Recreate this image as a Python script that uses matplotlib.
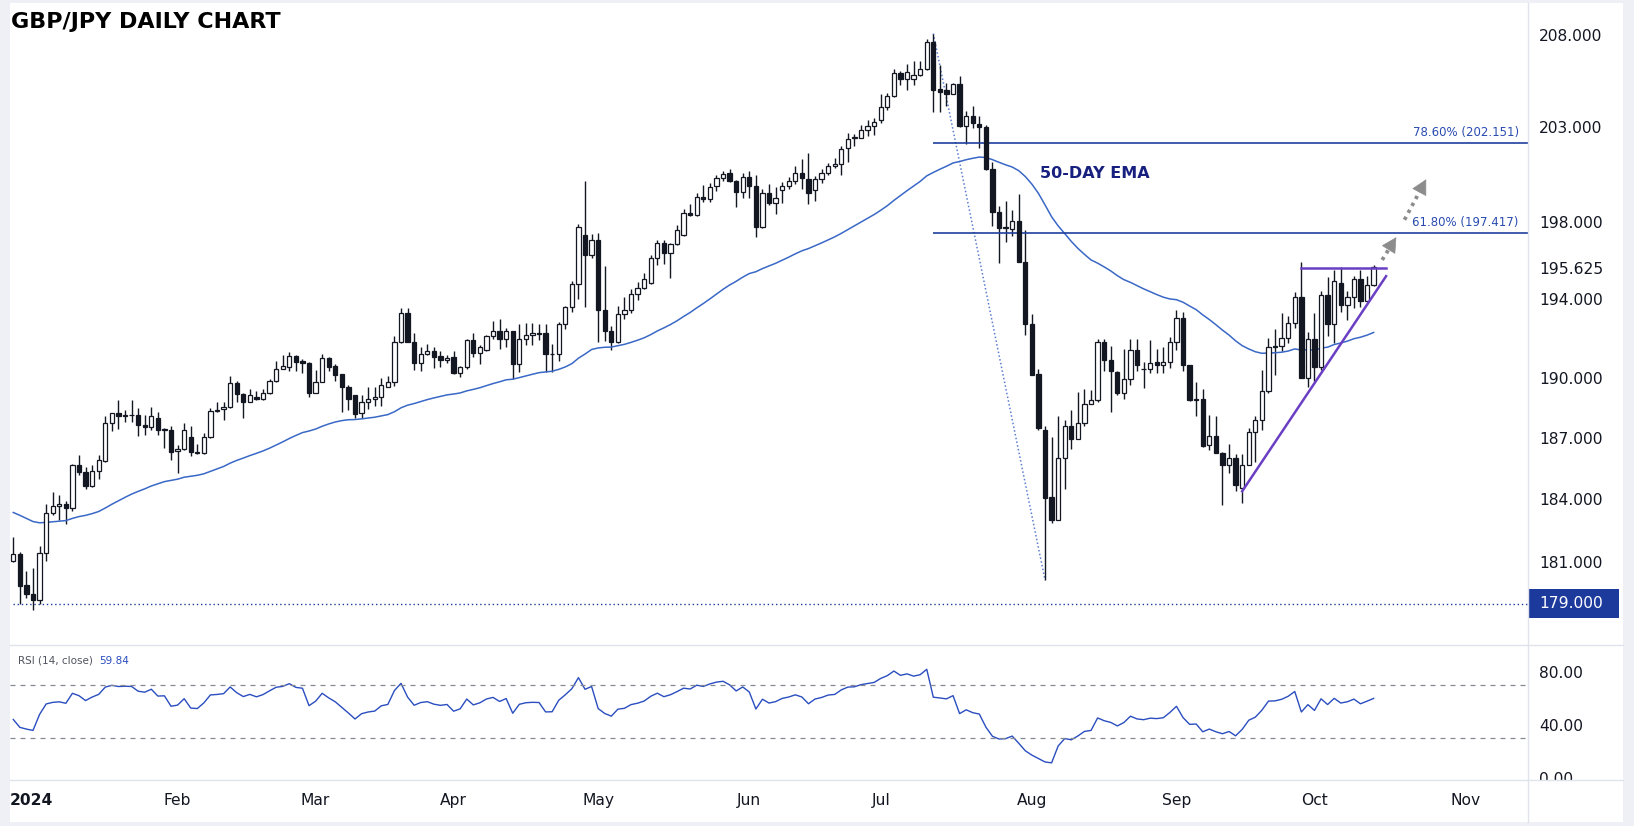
import numpy as np
import pandas as pd
import matplotlib
matplotlib.use("Agg")
import matplotlib.pyplot as plt
import matplotlib.transforms as mtransforms
from matplotlib.lines import Line2D
from matplotlib.patches import Rectangle
from matplotlib.ticker import NullLocator

# GBP/JPY daily candles (28 Dec 2023 - 14 Oct 2024)
opens = [181.03, 181.35, 179.88, 179.47, 179.19, 181.40, 183.34, 183.67, 183.78, 183.57,
         185.66, 185.33, 184.65, 185.37, 185.89, 187.74, 188.23, 188.09, 188.15, 188.15,
         187.64, 187.54, 187.99, 187.41, 187.41, 186.38, 186.49, 187.05, 186.30, 186.28,
         187.05, 188.37, 188.43, 188.54, 189.76, 189.21, 188.82, 189.03, 188.94, 189.27,
         189.86, 190.46, 190.55, 191.09, 190.85, 190.75, 189.27, 189.82, 190.99, 190.59,
         190.20, 189.57, 189.13, 188.23, 188.78, 188.97, 189.07, 189.57, 189.82, 191.81,
         193.29, 191.81, 190.75, 191.21, 191.35, 191.09, 190.91, 191.05, 190.26, 190.55,
         191.91, 191.25, 191.39, 192.11, 192.35, 191.99, 192.35, 190.71, 191.95, 192.19,
         192.25, 192.25, 191.19, 191.19, 192.71, 193.60, 194.77, 197.32, 196.30, 197.08,
         193.45, 192.39, 191.79, 193.25, 193.45, 194.26, 194.57, 194.83, 196.14, 196.91,
         196.40, 196.85, 197.32, 198.46, 198.36, 199.33, 199.19, 199.86, 200.30, 200.55,
         200.17, 199.56, 200.38, 199.86, 197.74, 199.54, 198.98, 199.65, 199.86, 200.13,
         200.55, 200.28, 199.67, 200.28, 200.55, 200.96, 201.07, 201.91, 202.44, 202.44,
         202.86, 203.07, 203.38, 204.08, 204.70, 205.94, 205.62, 205.62, 205.83, 206.16,
         207.63, 205.09, 205.02, 204.83, 205.36, 203.07, 203.64, 203.17, 203.02, 200.76,
         198.50, 197.70, 197.63, 198.05, 195.92, 192.75, 190.20, 187.41, 184.11, 183.02,
         186.05, 187.60, 186.96, 187.76, 188.72, 188.92, 191.79, 190.89, 190.32, 189.23,
         189.96, 191.41, 190.46, 190.46, 190.79, 190.65, 190.81, 191.79, 193.05, 190.65,
         188.88, 188.94, 186.67, 187.11, 186.28, 185.66, 186.01, 184.54, 185.70, 187.31,
         187.90, 189.33, 191.55, 191.61, 192.01, 192.79, 194.12, 190.00, 191.99, 190.55,
         194.20, 192.71, 194.81, 193.70, 194.12, 195.04, 193.90, 194.73]
highs = [182.20, 181.44, 180.56, 180.69, 181.73, 183.78, 184.34, 184.24, 183.92, 185.72,
         186.18, 185.60, 185.66, 186.18, 188.09, 188.25, 188.92, 188.39, 188.88, 188.48,
         188.15, 188.54, 188.29, 187.50, 187.60, 186.69, 187.76, 187.60, 186.72, 187.25,
         188.48, 188.82, 188.78, 190.10, 189.86, 189.25, 189.47, 189.37, 189.47, 189.96,
         190.85, 191.15, 191.29, 191.15, 190.95, 190.78, 190.40, 191.19, 191.05, 190.71,
         190.22, 189.66, 189.17, 189.17, 189.53, 189.53, 190.01, 190.12, 192.11, 193.56,
         193.56, 192.25, 191.55, 191.69, 191.55, 191.35, 191.15, 191.35, 190.60, 191.99,
         192.25, 191.65, 192.19, 192.89, 192.99, 192.55, 192.37, 192.71, 192.79, 192.79,
         192.75, 192.71, 191.69, 192.85, 193.66, 194.94, 197.90, 200.13, 197.36, 197.43,
         195.73, 192.65, 193.66, 194.12, 194.51, 194.87, 195.35, 196.30, 197.08, 197.08,
         196.91, 197.84, 198.67, 198.92, 199.54, 199.92, 200.07, 200.45, 200.70, 200.76,
         200.19, 200.55, 200.66, 200.45, 199.75, 199.98, 199.82, 200.09, 200.38, 200.92,
         201.34, 201.63, 200.40, 200.76, 201.13, 201.38, 202.01, 202.71, 202.65, 203.11,
         203.38, 203.53, 204.83, 204.87, 206.16, 206.05, 206.42, 206.59, 206.59, 207.82,
         208.10, 206.37, 205.41, 205.40, 205.79, 203.87, 204.17, 203.60, 203.13, 201.17,
         198.81, 199.12, 198.61, 199.46, 197.57, 193.25, 190.46, 187.60, 187.05, 188.09,
         187.90, 188.39, 189.31, 189.47, 189.41, 191.99, 191.99, 191.61, 190.34, 191.45,
         191.99, 191.99, 190.79, 191.91, 191.45, 191.55, 192.05, 193.45, 193.35, 190.67,
         189.80, 189.43, 188.15, 188.09, 186.30, 186.72, 186.20, 186.24, 187.50, 188.09,
         190.42, 192.01, 192.45, 193.29, 193.15, 194.37, 195.93, 192.31, 193.31, 194.41,
         195.12, 195.49, 195.63, 194.41, 195.18, 195.49, 195.18, 195.75]
lows = [180.97, 179.00, 179.28, 178.72, 179.00, 181.03, 183.25, 183.00, 182.81, 183.44,
        185.21, 184.50, 184.60, 184.98, 185.81, 187.35, 187.45, 187.80, 187.80, 187.11,
        187.17, 187.41, 187.15, 186.53, 185.95, 185.27, 186.43, 186.14, 186.24, 186.24,
        187.01, 188.29, 187.90, 188.48, 188.78, 187.99, 188.78, 188.92, 188.90, 189.21,
        189.80, 190.44, 190.36, 190.36, 190.26, 189.07, 189.25, 189.80, 190.36, 189.86,
        188.29, 188.39, 187.99, 187.99, 188.43, 188.62, 188.58, 189.55, 189.61, 191.75,
        191.79, 190.40, 190.36, 191.15, 190.51, 190.55, 190.75, 190.20, 190.06, 190.46,
        191.05, 190.71, 191.35, 191.95, 191.45, 191.55, 189.96, 190.32, 191.65, 191.65,
        191.91, 190.32, 190.32, 190.85, 192.45, 193.35, 194.00, 193.60, 196.14, 191.79,
        191.85, 191.39, 191.75, 192.99, 193.31, 193.98, 194.53, 194.77, 195.75, 195.83,
        195.08, 196.77, 197.28, 198.30, 198.32, 199.04, 199.04, 199.61, 200.17, 200.09,
        198.77, 199.25, 199.25, 197.22, 197.67, 198.88, 198.40, 198.98, 199.71, 199.98,
        199.71, 198.94, 199.08, 200.07, 200.49, 200.86, 200.47, 201.17, 202.01, 202.42,
        202.54, 202.58, 203.24, 203.96, 204.66, 205.30, 205.02, 205.30, 205.79, 206.12,
        203.85, 203.85, 204.13, 204.80, 203.05, 202.10, 202.96, 201.91, 200.74, 197.80,
        195.85, 196.95, 197.28, 195.90, 192.15, 190.14, 187.41, 180.12, 182.87, 183.00,
        184.50, 186.47, 186.94, 187.60, 188.68, 188.78, 190.36, 188.29, 189.17, 188.97,
        189.66, 190.36, 189.51, 190.26, 190.26, 190.26, 190.51, 191.39, 190.36, 188.86,
        188.09, 186.57, 186.43, 186.26, 183.73, 185.31, 184.40, 183.82, 185.66, 185.85,
        187.41, 189.27, 190.16, 191.35, 191.75, 192.51, 189.98, 189.57, 189.86, 190.42,
        192.11, 191.75, 193.35, 192.91, 193.56, 193.60, 193.88, 194.67]
closes = [181.35, 179.84, 179.47, 179.19, 181.40, 183.34, 183.67, 183.78, 183.57, 185.66,
          185.33, 184.65, 185.37, 185.95, 187.74, 188.23, 188.09, 188.15, 188.13, 187.64,
          187.54, 188.09, 187.41, 187.45, 186.34, 186.49, 187.41, 186.34, 186.28, 187.05,
          188.33, 188.41, 188.54, 189.76, 189.21, 188.82, 189.17, 188.94, 189.27, 189.86,
          190.46, 190.61, 191.09, 190.81, 190.75, 189.27, 189.82, 190.99, 190.55, 190.16,
          189.57, 188.94, 188.19, 188.78, 188.97, 189.07, 189.66, 189.82, 191.81, 193.29,
          191.81, 190.75, 191.21, 191.35, 191.05, 190.91, 191.03, 190.26, 190.55, 191.91,
          191.25, 191.55, 192.11, 192.35, 191.95, 192.35, 190.71, 191.95, 192.19, 192.25,
          192.23, 191.19, 191.21, 192.71, 193.60, 194.77, 197.74, 196.30, 197.08, 193.45,
          192.39, 191.79, 193.25, 193.45, 194.26, 194.57, 195.04, 196.14, 196.91, 196.40,
          196.85, 197.59, 198.46, 198.36, 199.33, 199.19, 199.82, 200.30, 200.51, 200.17,
          199.56, 200.38, 199.86, 197.74, 199.54, 198.98, 199.25, 199.86, 200.13, 200.55,
          200.30, 199.50, 200.28, 200.55, 200.96, 201.07, 201.87, 202.40, 202.46, 202.86,
          203.07, 203.28, 204.08, 204.70, 205.94, 205.62, 205.99, 205.83, 206.16, 207.63,
          205.02, 204.93, 204.83, 205.36, 203.07, 203.64, 203.22, 203.02, 200.76, 198.50,
          197.70, 197.74, 198.05, 195.92, 192.75, 190.16, 187.50, 184.07, 183.02, 186.05,
          187.60, 186.96, 187.76, 188.72, 188.92, 191.79, 190.91, 190.36, 189.23, 189.96,
          191.41, 190.65, 190.44, 190.75, 190.65, 190.81, 191.79, 193.05, 190.65, 188.88,
          188.94, 186.63, 187.11, 186.28, 185.66, 186.01, 184.69, 185.70, 187.31, 187.90,
          189.33, 191.55, 191.61, 192.01, 192.79, 194.12, 190.00, 191.99, 190.55, 194.20,
          192.71, 194.94, 193.70, 194.12, 195.04, 193.90, 194.73, 195.63]

first_day = "2023-12-28"
month_names = ["2024", "Feb", "Mar", "Apr", "May", "Jun", "Jul", "Aug", "Sep", "Oct", "Nov"]
price_ticks = [208.0, 203.0, 198.0, 195.625, 194.0, 190.0, 187.0, 184.0, 181.0]
rsi_ticks = [80, 40, 0]
fib_levels = [202.151, 197.417]
fib_texts = ["78.60% (202.151)", "61.80% (197.417)"]
support_level = 179.0
triangle_top = 195.625
rsi_last_text = "59.84"

# breakout arrows drawn by hand on the original (start, tip) in (bar index, price)
arrows = [((208.3, 196.02), (210.45, 197.20)),
          ((211.7, 198.11), (215.0, 200.24))]

# seeds for the indicators (the history before the first candle is not on the chart)
ema_seed = 183.45
rsi_seed_gain = 0.33
rsi_seed_loss = 0.42

n = len(closes)
x = np.arange(n)
o = np.array(opens)
c = np.array(closes)

# 50 day EMA
ema = []
e = ema_seed
for v in closes:
    e = e + (v - e) * 2 / 51
    ema.append(e)

# RSI 14 (Wilder)
rsi = []
g, l = rsi_seed_gain, rsi_seed_loss
prev = None
for v in closes:
    if prev is not None:
        d = v - prev
        g = (g * 13 + max(d, 0)) / 14
        l = (l * 13 + max(-d, 0)) / 14
    rsi.append(100 - 100 / (1 + g / l))
    prev = v

days = pd.bdate_range(first_day, periods=n + 20)
month_pos = [i for i in range(1, len(days)) if days[i].month != days[i - 1].month]

ink = "#131722"
navy = "#1e3f9e"
sep = "#e0e3eb"

# ---- layout (pixel positions of the 1568x793 screenshot)
W, H = 1568, 793
def fx(px):
    return px / W
def fy(py):
    return 1 - py / H

fig = plt.figure(figsize=(16.34, 8.26), dpi=100)
fig.patch.set_facecolor("#eef0f5")

bg = fig.add_axes([fx(9.6), fy(789), fx(1557) - fx(9.6), fy(3) - fy(789)])
bg.set_facecolor("white")
bg.set_xticks([]); bg.set_yticks([])
for s in bg.spines.values():
    s.set_visible(False)
bg.set_zorder(0)

ax = fig.add_axes([fx(9.6), fy(618.6), fx(1466.7) - fx(9.6), fy(3) - fy(618.6)])
ax_rsi = fig.add_axes([fx(9.6), fy(748.7), fx(1466.7) - fx(9.6), fy(619.5) - fy(748.7)], sharex=ax)
ax_date = fig.add_axes([fx(9.6), fy(789), fx(1466.7) - fx(9.6), fy(748.7) - fy(789)], sharex=ax)
for a, z in [(ax, 1), (ax_rsi, 1), (ax_date, 2)]:
    a.set_zorder(z)
    for s in a.spines.values():
        s.set_visible(False)
ax.patch.set_alpha(0)
ax_rsi.patch.set_alpha(0)
ax_date.set_facecolor("white")

# ---- price panel
ax.set_yscale("log")
ax.vlines(x, lows, highs, color=ink, lw=1.0, zorder=2)
body_lo = np.minimum(o, c)
body_h = np.maximum(np.abs(c - o), 0.03)
ax.bar(x, body_h, bottom=body_lo, width=0.66,
       color=np.where(c >= o, "white", ink), edgecolor=ink, lw=0.9, zorder=3)
ax.plot(x, ema, color="#3a68c6", lw=1.1, zorder=2)

x_right = (1466.7 - 12.8) / 6.306
ax.set_xlim(-0.5, x_right)
ax.set_ylim(177.09, 209.78)

# fibonacci retracement of the Jul high -> Aug low
hi_i, lo_i = 140, 157
ax.plot([hi_i, lo_i], [highs[hi_i], lows[lo_i]], color="#5b7fd0", ls=(0, (1, 1.5)), lw=1.1, zorder=1)
for lvl, txt in zip(fib_levels, fib_texts):
    ax.hlines(lvl, hi_i - 0.1, x_right, color=navy, lw=1.2, zorder=2)
    ax.annotate(txt, xy=(229.1, lvl), xytext=(0, 3), textcoords="offset points",
                ha="right", va="bottom", fontsize=8.5, color="#2a4bb0")

ax.text(156.2, 200.54, "50-DAY EMA", fontsize=11.5, fontweight="bold", color="#17207f",
        va="center", ha="left")

# support line at 179
ax.hlines(support_level, 0, x_right, color="#1f3a9a", ls=(0, (1, 2)), lw=1.0, zorder=1)

# ascending triangle
ax.plot([196, 208.9], [triangle_top, triangle_top], color="#6a3fc4", lw=1.8, zorder=4)
ax.plot([187, 208.9], [lows[187] + 0.58, 195.18], color="#6a3fc4", lw=1.8, zorder=4)

# projected breakout arrows: dotted shaft up to a solid head of fixed pixel length
head_px = 13.5
to_px = ax.transData
from_px = ax.transData.inverted()
for p0, p1 in arrows:
    d0 = np.array(to_px.transform(p0))
    d1 = np.array(to_px.transform(p1))
    u = (d1 - d0) / np.hypot(*(d1 - d0))
    xm, ym = from_px.transform(d1 - u * head_px)
    ax.plot([p0[0], xm], [p0[1], ym], color="#8c8c8c", lw=2.7, ls=(0, (0.9, 1.2)),
            solid_capstyle="butt", zorder=5)
    ax.annotate("", xy=p1, xytext=(xm, ym),
                arrowprops=dict(arrowstyle="-|>,head_length=0.6,head_width=0.32",
                                color="#8c8c8c", lw=0.5, mutation_scale=16.5,
                                shrinkA=0, shrinkB=0), zorder=5)

# right price scale
ax.yaxis.tick_right()
ax.yaxis.set_minor_locator(NullLocator())
ax.set_yticks(price_ticks)
ax.set_yticklabels(["%.3f" % t for t in price_ticks])
ax.tick_params(axis="y", length=0, pad=7.5, labelsize=11.2, labelcolor=ink)
ax.tick_params(axis="x", bottom=False, labelbottom=False)

tr = mtransforms.blended_transform_factory(ax.transAxes, ax.transData)
ax.add_patch(Rectangle((1.0, support_level * np.exp(-0.0038)), 0.0595,
                       support_level * (np.exp(0.0038) - np.exp(-0.0038)),
                       transform=tr, clip_on=False, facecolor="#1c3a9c", edgecolor="none", zorder=6))
ax.annotate("%.3f" % support_level, xy=(1.0, support_level), xycoords=tr,
            xytext=(7.5, 0), textcoords="offset points", ha="left", va="center",
            fontsize=11.2, color="white", zorder=7, annotation_clip=False)

# ---- RSI panel
ax_rsi.plot(x, rsi, color="#2a4dbf", lw=1.0)
for lvl in (70, 30):
    ax_rsi.axhline(lvl, color="#868993", ls=(0, (4, 4)), lw=0.9)
ax_rsi.set_ylim(-1.3, 99.7)
ax_rsi.yaxis.tick_right()
ax_rsi.set_yticks(rsi_ticks)
ax_rsi.set_yticklabels(["%.2f" % t for t in rsi_ticks])
ax_rsi.tick_params(axis="y", length=0, pad=7.5, labelsize=11.2, labelcolor=ink)
ax_rsi.tick_params(axis="x", bottom=False, labelbottom=False)
ax_rsi.text(0.0055, 0.885, "RSI (14, close)", transform=ax_rsi.transAxes, fontsize=7.5,
            color="#50535e", va="center", ha="left")
ax_rsi.text(0.0585, 0.885, rsi_last_text, transform=ax_rsi.transAxes, fontsize=7.5,
            color="#2a4dbf", va="center", ha="left")

# ---- date axis
ax_date.set_ylim(0, 1)
ax_date.set_yticks([])
ax_date.tick_params(axis="x", bottom=False, labelbottom=False)
for pos, name in zip(month_pos, month_names):
    if name == "2024":
        ax_date.text(-0.5, 0.5, name, ha="left", va="center", fontsize=11.2, color=ink,
                     fontweight="bold")
    else:
        ax_date.text(pos, 0.5, name, ha="center", va="center", fontsize=11.2, color=ink)

# hide the bottom half of the 0.00 label under the date strip, like the screenshot
fig.add_artist(Rectangle((fx(1466.7), fy(789)), fx(1557) - fx(1466.7), fy(748.7) - fy(789),
                         transform=fig.transFigure, facecolor="white", edgecolor="none", zorder=3))

# pane separators
for y0 in (619, 748.7):
    fig.add_artist(Line2D([fx(9.6), fx(1557)], [fy(y0), fy(y0)], color=sep, lw=1, zorder=4))
fig.add_artist(Line2D([fx(1466.7), fx(1466.7)], [fy(3), fy(789)], color=sep, lw=1, zorder=4))

fig.text(fx(11), fy(21), "GBP/JPY DAILY CHART", fontsize=16, fontweight="bold", color="black",
         ha="left", va="center")

fig.savefig("out.png", dpi=100, facecolor=fig.get_facecolor())
